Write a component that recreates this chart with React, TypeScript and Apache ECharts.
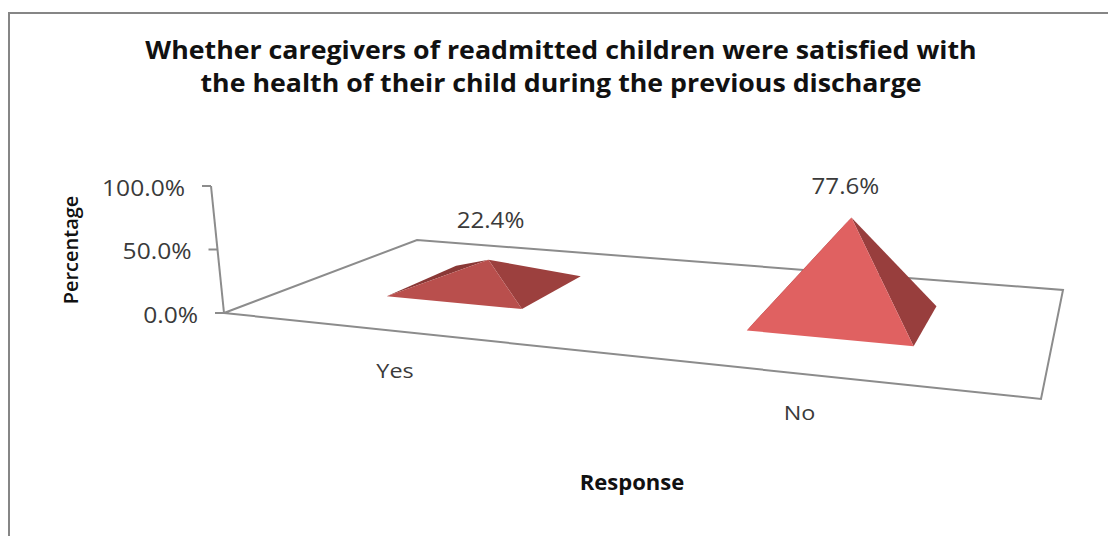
import React, { useEffect, useRef } from "react";
import * as echarts from "echarts";

const chartTitle =
  "Whether caregivers of readmitted children were satisfied with\nthe health of their child during the previous discharge";
const categories = ["Yes", "No"];
const percentages = [22.4, 77.6];
const yTicks = [0, 50, 100];
const yAxisName = "Percentage";
const xAxisName = "Response";

// Face colours per category: left, right, front.
const leftFaces = ["#8A3836", "#8A3836"];
const rightFaces = ["#9C403E", "#983E3D"];
const frontFaces = ["#B94F4D", "#E06161"];

// Pixel offset of each value label from its pyramid's apex.
const labelOffsets = [
  [2, -40],
  [-6, -31],
];

const FONT = "'Open Sans', sans-serif";
const LINE = "#8C8C8C";
const TEXT = "#3A3A3A";

// Corners of the floor in the 3D view.
const FRONT_LEFT = [224, 313];
const FRONT_RIGHT = [1041, 399];
const BACK_RIGHT = [1063, 290];
const BACK_LEFT = [417, 240];

const AXIS_LEAN = -13 / 127;
const PYRAMID_LEAN = 0.065;
const HALF_U = 0.1;
const HALF_V = 0.2;

// Perspective map from the unit square (u along categories, v into depth) to the floor.
function makeFloor() {
  const [x0, y0] = FRONT_LEFT;
  const [x1, y1] = FRONT_RIGHT;
  const [x2, y2] = BACK_RIGHT;
  const [x3, y3] = BACK_LEFT;
  const dx1 = x1 - x2;
  const dx2 = x3 - x2;
  const sx = x0 - x1 + x2 - x3;
  const dy1 = y1 - y2;
  const dy2 = y3 - y2;
  const sy = y0 - y1 + y2 - y3;
  const det = dx1 * dy2 - dx2 * dy1;
  const g = (sx * dy2 - dx2 * sy) / det;
  const h = (dx1 * sy - sx * dy1) / det;
  const a = x1 - x0 + g * x1;
  const b = x3 - x0 + h * x3;
  const d = y1 - y0 + g * y1;
  const e = y3 - y0 + h * y3;
  return (u: number, v: number) => {
    const w = g * u + h * v + 1;
    return { x: (a * u + b * v + x0) / w, y: (d * u + e * v + y0) / w, w };
  };
}
const floor = makeFloor();

function renderScene(_params: any, api: any) {
  const zero = api.coord([0, 0]);
  const children: any[] = [
    {
      type: "polygon",
      shape: { points: [FRONT_LEFT, FRONT_RIGHT, BACK_RIGHT, BACK_LEFT] },
      style: { fill: "none", stroke: LINE, lineWidth: 2 },
    },
  ];
  const axisPoint = (v: number) => {
    const py = api.coord([0, v])[1];
    return [FRONT_LEFT[0] + AXIS_LEAN * (zero[1] - py), py];
  };
  children.push({
    type: "line",
    shape: {
      x1: axisPoint(0)[0],
      y1: axisPoint(0)[1],
      x2: axisPoint(100)[0],
      y2: axisPoint(100)[1],
    },
    style: { stroke: LINE, lineWidth: 2 },
  });
  yTicks.forEach((t) => {
    const [px, py] = axisPoint(t);
    children.push({
      type: "line",
      shape: { x1: px - 9, y1: py, x2: px, y2: py },
      style: { stroke: LINE, lineWidth: 2 },
    });
    children.push({
      type: "text",
      x: px - 26,
      y: py + 2,
      scaleX: 1.17,
      style: {
        text: t.toFixed(1) + "%",
        align: "right",
        verticalAlign: "middle",
        fill: TEXT,
        font: `21px ${FONT}`,
      },
    });
  });
  return { type: "group", children };
}

function renderPyramid(_params: any, api: any) {
  const i = api.value(0);
  const value = api.value(1);
  const u = (i + 0.5) / categories.length;
  const c = floor(u, 0.5);
  const rise = (api.coord([0, 0])[1] - api.coord([0, value])[1]) / c.w;
  const apex = [c.x + PYRAMID_LEAN * rise, c.y - rise];
  const at = (du: number, dv: number) => {
    const p = floor(u + du, 0.5 + dv);
    return [p.x, p.y];
  };
  const fl = at(-HALF_U, -HALF_V);
  const fr = at(HALF_U, -HALF_V);
  const br = at(HALF_U, HALF_V);
  const bl = at(-HALF_U, HALF_V);
  const foot = floor(u, 0);
  const face = (points: number[][], fill: string) => ({
    type: "polygon",
    shape: { points },
    style: { fill },
  });
  const caption = (text: string, x: number, y: number, size: number, scaleX: number) => ({
    type: "text",
    x,
    y,
    scaleX,
    style: {
      text,
      align: "center",
      verticalAlign: "middle",
      fill: TEXT,
      font: `${size}px ${FONT}`,
    },
  });
  return {
    type: "group",
    children: [
      face([fl, bl, apex], leftFaces[i]),
      face([fr, br, apex], rightFaces[i]),
      face([fl, fr, apex], frontFaces[i]),
      caption(
        value.toFixed(1) + "%",
        apex[0] + labelOffsets[i][0],
        apex[1] + labelOffsets[i][1],
        21,
        1.15
      ),
      caption(categories[i], foot.x, foot.y + 39, 20, 1.17),
    ],
  };
}

export default function App() {
  const ref = useRef<HTMLDivElement>(null);

  useEffect(() => {
    document.body.style.margin = "0";
    const chart = echarts.init(ref.current!, null, { renderer: "svg" });
    chart.setOption({
      animation: false,
      backgroundColor: "#FFFFFF",
      grid: { left: 224, top: 186, width: 820, height: 127 },
      xAxis: { type: "category", data: categories, show: false },
      yAxis: { type: "value", min: 0, max: 100, interval: 50, show: false },
      graphic: [
        {
          type: "polyline",
          shape: { points: [[9, 536], [9, 13], [1108, 13]] },
          style: { fill: "none", stroke: "#868686", lineWidth: 2 },
        },
        {
          type: "text",
          x: 561,
          y: 66,
          scaleX: 1.07,
          style: {
            text: chartTitle,
            align: "center",
            verticalAlign: "middle",
            fill: "#111111",
            font: `bold 25px ${FONT}`,
            lineHeight: 33,
          },
        },
        {
          type: "text",
          x: 70,
          y: 250,
          rotation: Math.PI / 2,
          style: {
            text: yAxisName,
            align: "center",
            verticalAlign: "middle",
            fill: "#111111",
            font: `600 20px ${FONT}`,
          },
        },
        {
          type: "text",
          x: 632,
          y: 482,
          scaleX: 1.05,
          style: {
            text: xAxisName,
            align: "center",
            verticalAlign: "middle",
            fill: "#111111",
            font: `bold 21px ${FONT}`,
          },
        },
      ],
      series: [
        {
          type: "custom",
          renderItem: renderScene,
          data: [[0, 0]],
          silent: true,
          z: 1,
        },
        {
          type: "custom",
          renderItem: renderPyramid,
          data: percentages.map((v, i) => [i, v]),
          silent: true,
          z: 2,
        },
      ],
    });
    return () => chart.dispose();
  }, []);

  return <div ref={ref} style={{ width: 1108, height: 536 }} />;
}
